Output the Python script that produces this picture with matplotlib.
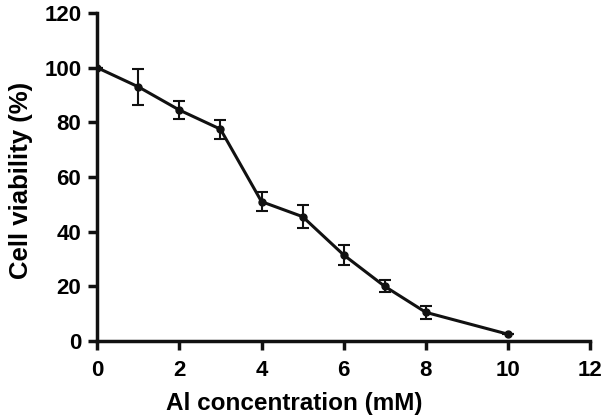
import matplotlib
matplotlib.use("Agg")
import matplotlib.pyplot as plt

conc = [0, 1, 2, 3, 4, 5, 6, 7, 8, 10]
viability = [100, 93, 84.5, 77.5, 51, 45.5, 31.5, 20, 10.5, 2.5]
err = [0, 6.7, 3.4, 3.5, 3.6, 4.2, 3.5, 2.2, 2.5, 0]

plt.rcParams['font.family'] = ['Liberation Sans', 'DejaVu Sans']
plt.rcParams['font.weight'] = 'bold'

fig = plt.figure(figsize=(6.04, 4.2), dpi=100)
ax = fig.add_axes([0.161, 0.188, 0.816, 0.781])
ax.errorbar(conc, viability, yerr=err, color='#111111', lw=2.2, marker='o', ms=5,
            capsize=4, capthick=1.5, elinewidth=1.5)
ax.set_xlim(0, 12)
ax.set_ylim(0, 120)
ax.set_xticks(range(0, 13, 2))
ax.set_yticks(range(0, 121, 20))
for s in ['top', 'right']:
    ax.spines[s].set_visible(False)
for s in ['left', 'bottom']:
    ax.spines[s].set_linewidth(2.5)
    ax.spines[s].set_color('#111111')
ax.tick_params(width=2.5, length=6.5, labelsize=16, color='#111111')
ax.tick_params(axis='x', pad=7)
ax.tick_params(axis='y', pad=5)
for lab in ax.get_xticklabels() + ax.get_yticklabels():
    lab.set_fontweight('bold')
ax.set_xlabel('Al concentration (mM)', fontsize=17.5, fontweight='bold')
ax.set_ylabel('Cell viability (%)', fontsize=18.5, fontweight='bold')
ax.xaxis.set_label_coords(0.40, -0.155)
ax.yaxis.set_label_coords(-0.13, 0.49)
fig.savefig('out.png', dpi=100)
